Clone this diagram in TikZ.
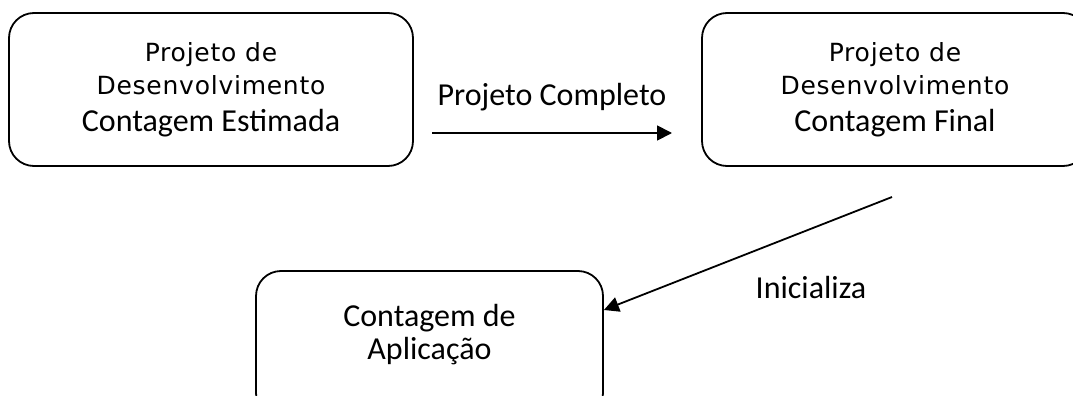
\documentclass[tikz,border=0pt]{standalone}
\usepackage{fontspec}
\setmainfont{Carlito}
\newfontfamily\verdana[LetterSpace=3]{DejaVu Sans}
\usetikzlibrary{arrows.meta}

\newcommand{\pequeno}{\verdana\fontsize{25}{33}\selectfont}
\newcommand{\grande}{\rmfamily\fontsize{32}{36}\selectfont}

\begin{document}
\begin{tikzpicture}[x=1pt,y=-1pt,
    caixa/.style={draw, line width=1.8pt, rounded corners=25pt, align=center, inner sep=0pt},
    seta/.style={-{Triangle[length=15pt,width=15pt]}, line width=1.8pt}]
  \useasboundingbox (0,0) rectangle (1073,396);
  \clip (0,0) rectangle (1073,396);
  %\draw [help lines, step=50] (0,0) grid (1073,396);
  \node [caixa, font=\pequeno, minimum width=404pt, minimum height=153pt] (estimada) at (211,89.5)
    {Projeto de\\Desenvolvimento\\[4pt]\grande Contagem Estimada};
  \node [caixa, font=\pequeno, minimum width=386pt, minimum height=153pt] (final) at (895,89.5)
    {Projeto de\\Desenvolvimento\\[4pt]\grande Contagem Final};
  \node [caixa, font=\grande, text depth=25pt, minimum width=347pt, minimum height=147pt] (aplicacao) at (429.5,344.5)
    {Contagem de\\[-3pt]Aplicação};
  \coordinate (a1) at (432,133);
  \coordinate (a2) at (672,133);
  \coordinate (a3) at (892,197);
  \draw [seta] (a1) -- (a2) node [midway, above=18pt, font=\grande] (completo) {Projeto Completo};
  \draw [seta] (a3) -- ([yshift=34.5pt]aplicacao.east);
  \node [font=\grande, anchor=base] (inicializa) at (811,298) {Inicializa};
\end{tikzpicture}
\end{document}
